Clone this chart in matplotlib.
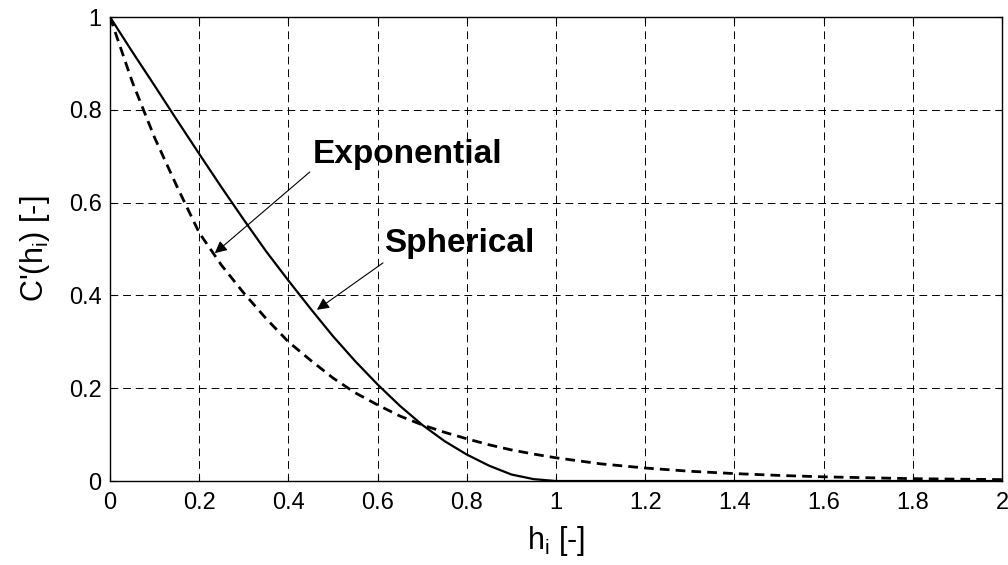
import numpy as np
import matplotlib.pyplot as plt

plt.rcParams['font.family'] = ['Liberation Sans', 'DejaVu Sans']
plt.rcParams['mathtext.fontset'] = 'custom'
plt.rcParams['mathtext.rm'] = 'Liberation Sans'

# lag distance h_i and correlation values
h = [0, 0.05, 0.1, 0.15, 0.2, 0.25, 0.3, 0.35, 0.4, 0.45, 0.5, 0.55, 0.6, 0.65,
     0.7, 0.75, 0.8, 0.85, 0.9, 0.95, 1.0, 1.1, 1.2, 1.3, 1.4, 1.5, 1.6, 1.7,
     1.8, 1.9, 2.0]
spherical = [1.0, 0.925, 0.852, 0.778, 0.705, 0.633, 0.563, 0.495, 0.432, 0.371,
             0.312, 0.258, 0.208, 0.162, 0.121, 0.086, 0.057, 0.033, 0.014, 0.004,
             0.0, 0.0, 0.0, 0.0, 0.0, 0.0, 0.0, 0.0, 0.0, 0.0, 0.0]
exponential = [1.0, 0.86, 0.74, 0.635, 0.535, 0.465, 0.405, 0.35, 0.30, 0.26,
               0.222, 0.19, 0.164, 0.14, 0.121, 0.105, 0.091, 0.078, 0.067, 0.058,
               0.05, 0.037, 0.028, 0.021, 0.016, 0.012, 0.009, 0.007, 0.005,
               0.004, 0.003]

xticks = [0, 0.2, 0.4, 0.6, 0.8, 1, 1.2, 1.4, 1.6, 1.8, 2]
xticklabels = ['0', '0.2', '0.4', '0.6', '0.8', '1', '1.2', '1.4', '1.6', '1.8', '2']
yticks = [0, 0.2, 0.4, 0.6, 0.8, 1]
yticklabels = ['0', '0.2', '0.4', '0.6', '0.8', '1']

fig = plt.figure(figsize=(10.08, 5.65), dpi=100)
ax = fig.add_axes([110/1008, 1 - 481/565, 892/1008, 464/565])

ax.plot(h, spherical, color='black', lw=1.6)
ax.plot(h, exponential, color='black', lw=2.0, linestyle=(0, (3.5, 2.2)))

ax.set_xlim(0, 2)
ax.set_ylim(0, 1)
ax.set_xticks(xticks)
ax.set_xticklabels(xticklabels)
ax.set_yticks(yticks)
ax.set_yticklabels(yticklabels)
ax.tick_params(direction='in', length=4, width=0.8, top=True, right=True,
               labelsize=17)
ax.tick_params(axis='x', pad=8)
ax.tick_params(axis='y', pad=6)
ax.grid(True, color='black', linestyle=(0, (8, 5)), linewidth=0.7)
for s in ax.spines.values():
    s.set_linewidth(1.0)

ax.set_xlabel('h$_\\mathregular{i}$ [-]', fontsize=22, labelpad=7)
ax.set_ylabel("C'(h$_\\mathregular{i}$) [-]", fontsize=22, labelpad=12)

ax.text(0.455, 0.685, 'Exponential', fontsize=24, fontweight='bold', va='baseline')
ax.annotate('', xy=(0.235, 0.491), xytext=(0.448, 0.666),
            arrowprops=dict(arrowstyle='-|>', color='black', lw=0.8,
                            mutation_scale=18, shrinkA=0, shrinkB=0))
ax.text(0.615, 0.493, 'Spherical', fontsize=24, fontweight='bold', va='baseline')
ax.annotate('', xy=(0.464, 0.369), xytext=(0.612, 0.47),
            arrowprops=dict(arrowstyle='-|>', color='black', lw=0.8,
                            mutation_scale=18, shrinkA=0, shrinkB=0))

plt.savefig('out.png', dpi=100)
